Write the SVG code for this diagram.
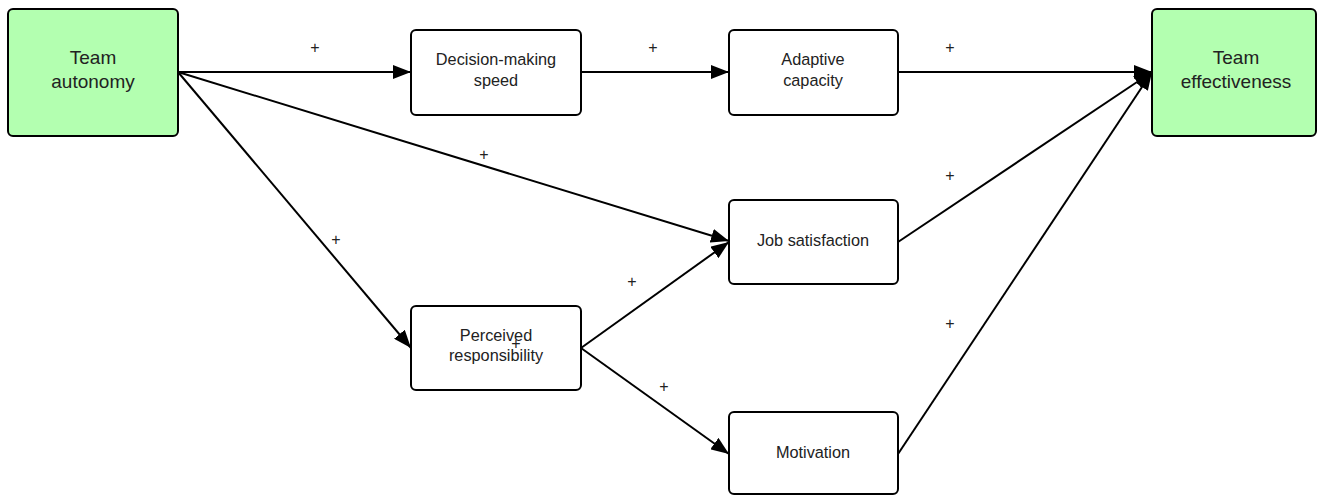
<svg xmlns="http://www.w3.org/2000/svg" width="1323" height="495" viewBox="0 0 1323 495">
  <style>
    .box { fill: #ffffff; stroke: #000000; stroke-width: 2; }
    .key { fill: #b3ffb0; stroke: #000000; stroke-width: 2; }
    .lbl { font-family: "Liberation Sans", Arial, sans-serif; font-size: 16.3px; fill: #222222; text-anchor: middle; }
    .big { font-family: "Liberation Sans", Arial, sans-serif; font-size: 19px; fill: #222222; text-anchor: middle; }
    .sign { font-family: "Liberation Sans", Arial, sans-serif; font-size: 16px; fill: #222222; text-anchor: middle; }
    .edge { fill: none; stroke: #000000; stroke-width: 2; marker-end: url(#head); }
  </style>
  <defs>
    <marker id="head" markerUnits="userSpaceOnUse" markerWidth="20" markerHeight="14" refX="18" refY="7" orient="auto">
      <path d="M0,0 L18,7 L0,14 Z" fill="#000000"/>
    </marker>
  </defs>
  <rect width="1323" height="495" fill="#ffffff"/>

  <g id="connectors">
    <line class="edge" x1="178" y1="72" x2="411" y2="72"/>
    <line class="edge" x1="581" y1="72" x2="729" y2="72"/>
    <line class="edge" x1="898" y1="72" x2="1152" y2="72"/>
    <line class="edge" x1="178" y1="72" x2="729" y2="241"/>
    <line class="edge" x1="178" y1="72" x2="411" y2="348"/>
    <line class="edge" x1="581" y1="348" x2="729" y2="242"/>
    <line class="edge" x1="581" y1="348" x2="729" y2="454"/>
    <line class="edge" x1="898" y1="242" x2="1152" y2="72"/>
    <line class="edge" x1="898" y1="454" x2="1152" y2="72"/>
  </g>

  <g id="team-autonomy">
    <rect class="key" x="8" y="9" width="170" height="127" rx="5"/>
    <text class="big" x="93" y="64">Team</text>
    <text class="big" x="93" y="88">autonomy</text>
  </g>
  <g id="decision-speed">
    <rect class="box" x="411" y="30" width="170" height="85" rx="5"/>
    <text class="lbl" x="496" y="65">Decision-making</text>
    <text class="lbl" x="496" y="86">speed</text>
  </g>
  <g id="adaptive-capacity">
    <rect class="box" x="729" y="30" width="169" height="85" rx="5"/>
    <text class="lbl" x="813" y="65">Adaptive</text>
    <text class="lbl" x="813" y="86">capacity</text>
  </g>
  <g id="team-effectiveness">
    <rect class="key" x="1152" y="9" width="164" height="127" rx="5"/>
    <text class="big" x="1236" y="64">Team</text>
    <text class="big" x="1236" y="88">effectiveness</text>
  </g>
  <g id="job-satisfaction">
    <rect class="box" x="729" y="200" width="169" height="84" rx="5"/>
    <text class="lbl" x="813" y="246">Job satisfaction</text>
  </g>
  <g id="perceived-responsibility">
    <rect class="box" x="411" y="306" width="170" height="84" rx="5"/>
    <text class="lbl" x="496" y="341">Perceived</text>
    <text class="lbl" x="496" y="361">responsibility</text>
  </g>
  <g id="motivation">
    <rect class="box" x="729" y="412" width="169" height="82" rx="5"/>
    <text class="lbl" x="813" y="458">Motivation</text>
  </g>

  <!-- connector polarity signs, drawn last so none is hidden under a box -->
  <g id="signs">
    <text class="sign" x="315" y="53">+</text>
    <text class="sign" x="653" y="53">+</text>
    <text class="sign" x="950" y="53">+</text>
    <text class="sign" x="484" y="160">+</text>
    <text class="sign" x="336" y="245">+</text>
    <text class="sign" x="632" y="287">+</text>
    <text class="sign" x="664" y="392">+</text>
    <text class="sign" x="950" y="181">+</text>
    <text class="sign" x="950" y="329">+</text>
    <text class="sign" x="516" y="349">+</text>
  </g>
</svg>
